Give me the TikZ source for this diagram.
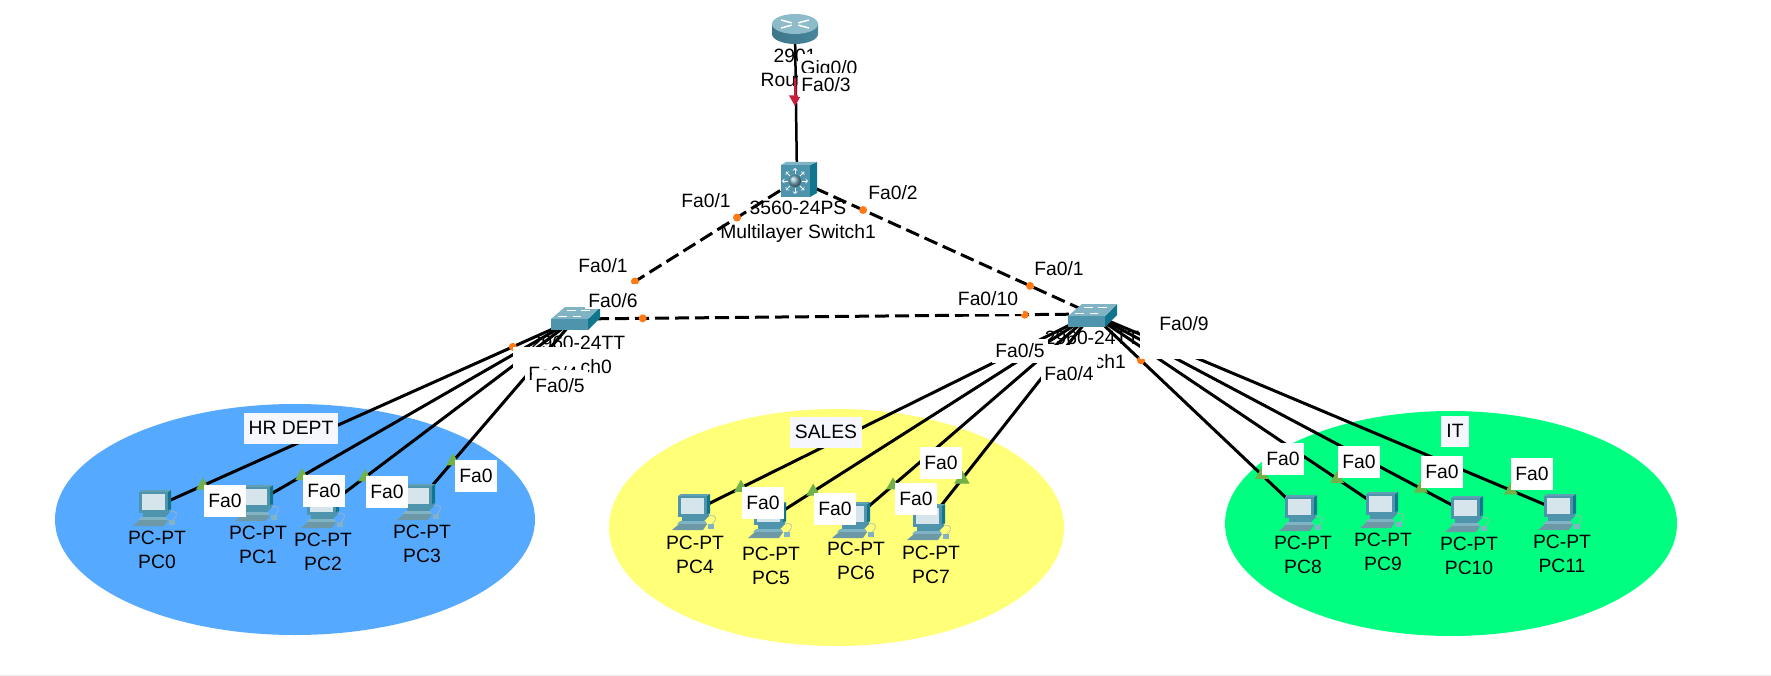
\documentclass[tikz,border=0pt]{standalone}
\usepackage{fontspec}
\setmainfont{Liberation Sans}
\usetikzlibrary{shapes.geometric}
\definecolor{hrblue}{RGB}{85,170,255}
\definecolor{salesyellow}{RGB}{255,255,120}
\definecolor{itgreen}{RGB}{0,255,128}
\definecolor{portorange}{RGB}{255,122,20}
\definecolor{portgreen}{RGB}{112,178,72}
\definecolor{linkred}{RGB}{200,30,60}
\definecolor{ciscoface}{RGB}{78,148,172}
\definecolor{ciscotop}{RGB}{128,180,196}
\definecolor{ciscoside}{RGB}{16,118,142}
\definecolor{screenpale}{RGB}{214,228,236}
\definecolor{areabox}{RGB}{246,247,254}
\tikzset{
  pcicon/.pic={
    \fill[ciscoside] (13,-15) -- (16,-17) -- (16,2) -- (13,6) -- cycle;
    \fill[ciscoface!90!white] (-16,-15) -- (-13,-17) -- (16,-17) -- (13,-15) -- cycle;
    \fill[ciscoface] (-16,-15) rectangle (13,6);
    \fill[screenpale] (-13,-13) rectangle (10,3);
    \fill[ciscoface] (-12,6) -- (10,6) -- (15,2) -- (15,5) -- (10,10) -- (-12,10) -- cycle;
    \fill[ciscotop] (-14,10) -- (11,10) -- (13,13) -- (-17,13) -- cycle;
    \fill[ciscotop!85!black] (-15,13) -- (13,13) -- (9,19) -- (-22,19) -- cycle;
    \fill[ciscotop] (14,13) rectangle (20,18);
    \draw[gray!60,line width=0.6pt] (15,5) .. controls (22,3) and (24,8) .. (18,13);
  },
  routericon/.pic={
    \shade[left color=ciscoface!80!black,middle color=white,right color=ciscoface!90!black]
      (-23,-5) -- (-23,5) arc (180:0:23 and 10) -- (23,-5) -- cycle;
    \fill[ciscotop!90!white] (0,-5) ellipse (23 and 10);
    \foreach \ang in {35,145,215,325}
      \draw[white,line width=1.5pt] (0,-5) ++(\ang:4 and 2) -- ++(\ang:13 and 5);
  },
  mlswitchicon/.pic={
    \fill[ciscoside] (13,-15) -- (20,-18) -- (20,13) -- (13,17) -- cycle;
    \fill[ciscotop] (-16,-15) -- (-11,-18) -- (20,-18) -- (13,-15) -- cycle;
    \fill[ciscoface] (-16,-15) rectangle (13,17);
    \foreach \ang in {0,45,...,315}
      \draw[->,white,line width=0.8pt] (-2,1) ++(\ang:7) -- ++(\ang:6);
    \shade[ball color=ciscoface!70!white] (-2,1) circle (6);
  },
  swicon/.pic={
    \fill[ciscoside] (13,0) -- (25,-12) -- (25,-1) -- (13,11) -- cycle;
    \fill[ciscotop] (-24,0) -- (-10,-12) -- (25,-12) -- (13,0) -- cycle;
    \fill[ciscoface] (-24,0) rectangle (13,11);
    \draw[white,line width=0.7pt] (-17,-3) -- (-8,-3) (-8,-9) -- (1,-9) (6,-9) -- (15,-9) (-2,-3) -- (6,-3);
  }
}
\begin{document}
\begin{tikzpicture}[x=1pt,y=-1pt,font=\fontsize{19.3}{24}\selectfont]
  \tikzset{devlabel/.style={align=center,inner sep=0pt}}
  \tikzset{portlabel/.style={fill=white,inner xsep=3pt,inner ysep=0pt,minimum height=24pt}}
  \tikzset{pclabel/.style={fill=white,inner xsep=4pt,inner ysep=0pt,minimum height=32pt}}
  \tikzset{arealabel/.style={fill=areabox,inner xsep=5pt,inner ysep=0pt,minimum height=31pt}}
  \tikzset{trunk/.style={line width=3pt,dash pattern=on 14pt off 6pt}}
  \tikzset{cable/.style={line width=3pt}}
  \tikzset{portdot/.style={circle,fill=portorange,inner sep=0pt,minimum size=8pt}}
  \tikzset{portup/.style={regular polygon,regular polygon sides=3,fill=portgreen,inner sep=0pt,minimum size=16pt}}

  \useasboundingbox (0,0) rectangle (1771,676);
  \draw[gray!15,line width=1pt] (0,675) -- (1771,675);

  \fill[hrblue] (295,519.5) ellipse (240 and 115.5);
  \fill[salesyellow] (836.5,527.5) ellipse (227.5 and 118.5);
  \fill[itgreen] (1451,523.5) ellipse (226 and 112.5);

  \coordinate (router) at (795,29);
  \coordinate (ml) at (797,180);
  \coordinate (sw0) at (575,319);
  \coordinate (sw1) at (1092,314);

  \node[devlabel] (routerlab) at (795,68) {2901\\Router0};
  \node[devlabel] (mllab) at (798,222) {3560-24PS\\Multilayer Switch1};
  \node[devlabel] (sw0lab) at (578,355) {2960-24TT\\Switch0};
  \node[devlabel] (sw1lab) at (1092,350) {2960-24TT\\Switch1};
  \foreach \pcname/\px/\py/\lx/\ly/\lab in {
    pc0/155/507/157/550/PC0,pc1/257/502/258/545/PC1,pc2/323/509/323/552/PC2,pc3/419/501/422/544/PC3,
    pc4/694/511/695/555/PC4,pc5/770/519/771/566/PC5,pc6/854/519/856/561/PC6,pc7/929/521/931/565/PC7,
    pc8/1301/512/1303/555/PC8,pc9/1382/509/1383/552/PC9,pc10/1467/513/1469/556/PC10,pc11/1560/511/1562/554/PC11}
  {
    \coordinate (\pcname) at (\px,\py);
    \node[devlabel] (\pcname lab) at (\lx,\ly) {PC-PT\\\lab};
  }

  % links
  \draw[line width=2.5pt] (router) -- (ml);
  \draw[linkred,line width=2.5pt] (795,78) -- (795.5,96);
  \node[portup,fill=linkred,shape border rotate=180,minimum size=14pt] (uplink) at (795,99) {};
  \draw[trunk] (ml) -- (sw0) node[portdot,pos=.27] (dotml0) {} node[portdot,pos=.73] (dotsw0) {};
  \draw[trunk] (ml) -- (sw1) node[portdot,pos=.224] (dotml1) {} node[portdot,pos=.79] (dotsw1) {};
  \draw[trunk] (sw0) -- (sw1) node[portdot,pos=.131] (dotsw0b) {} node[portdot,pos=.87] (dotsw1b) {};
  \foreach \sw/\pc/\lamp in {
    sw0/pc0/.886,sw0/pc1/.858,sw0/pc2/.833,sw0/pc3/.782,
    sw1/pc4/.882,sw1/pc5/.866,sw1/pc6/.836,sw1/pc7/.798,
    sw1/pc8/.813,sw1/pc9/.845,sw1/pc10/.877,sw1/pc11/.895}
    \draw[cable] (\sw) -- (\pc) node[portup,pos=\lamp] (\pc lamp) {};
  \node[portup,minimum size=18pt] (pc7wide) at (pc7lamp) {};
  \path (sw0) -- (pc0) node[portdot,pos=.148] (dotpc0) {};
  \path (sw1) -- (pc8) node[portdot,pos=.234] (dotpc8) {};

  % icons
  \pic at (router) {routericon};
  \pic at (ml) {mlswitchicon};
  \pic at (sw0) {swicon};
  \pic at ([yshift=-2pt]sw1) {swicon};
  \foreach \pcname in {pc0,pc1,pc2,pc3,pc4,pc5,pc6,pc7,pc8,pc9,pc10,pc11}
    \pic at (\pcname) {pcicon};

  % labels of the groups and ports
  \node[arealabel] (hrlab) at (291,428) {HR DEPT};
  \node[arealabel] (saleslab) at (826,432) {SALES};
  \node[arealabel] (itlab) at (1455,431) {IT};

  \fill[white] (513,347) rectangle (580,368);
  \fill[white] (1045,345) rectangle (1098,362);
  \fill[white] (1140,305) rectangle (1215,359);
  \fill[white] (588,284) rectangle (640,309);

  \node[portlabel,minimum height=32pt] (gig) at (829,70) {Gig0/0};
  \foreach \portname/\lx/\ly/\portnum in {
    fa3/826/85/3,mlfa1/706/201/1,mlfa2/893/193/2,
    swafa1/603/266/1,swafa4/553/374/4,
    swbfa1/1059/269/1,swbfa5/1020/351/5,swbfa4/1069/374/4,swbfa9/1184/324/9}
    \node[portlabel] (\portname) at (\lx,\ly) {Fa0/\portnum};
  \node[portlabel,minimum height=16pt] (swafa6) at (613,301) {Fa0/6};
  \node[portlabel,minimum height=32pt] (swafa5) at (560,386) {Fa0/5};
  \node[portlabel,minimum height=30pt,inner xsep=5pt] (swbfa10) at (988,299) {Fa0/10};
  \foreach \portname/\lx/\ly in {
    fa0a/225/501,fa0b/324/491,fa0c/387/492,fa0d/476/476,
    fa0e/763/503,fa0f/835/509,fa0g/941/463,fa0h/916/499,
    fa0i/1283/459,fa0j/1359/462,fa0k/1442/472,fa0l/1532/474}
    \node[pclabel] (\portname) at (\lx,\ly) {Fa0};
\end{tikzpicture}
\end{document}
